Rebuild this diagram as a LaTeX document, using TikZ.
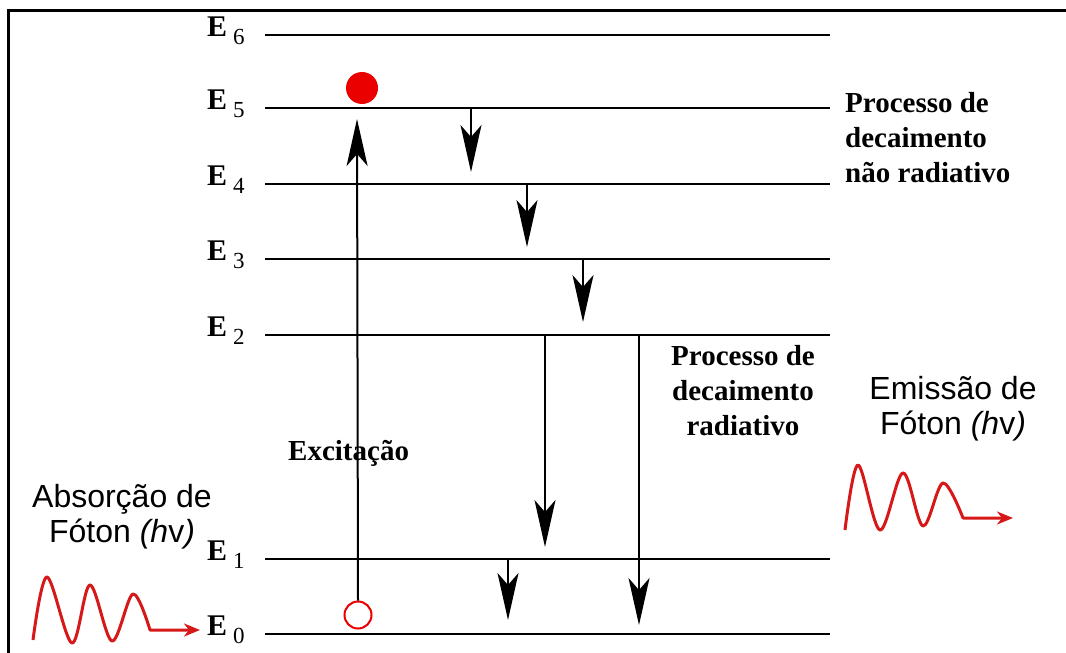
\documentclass[tikz,border=0pt]{standalone}
\usepackage{fontspec}
\setmainfont{Liberation Serif}
\newfontfamily\arialf{Liberation Sans}
\usetikzlibrary{arrows.meta}
\definecolor{wred}{RGB}{214,24,24}
\definecolor{dotred}{RGB}{235,0,0}
\newcommand\mylinesL[1]{\begin{tabular}[t]{@{}l@{}}#1\end{tabular}}
\newcommand\mylinesC[1]{\begin{tabular}[t]{@{}c@{}}#1\end{tabular}}
\newcommand\esub[1]{\textbf{E}\kern6pt\raisebox{-8pt}{\mdseries\fontsize{23}{23}\selectfont #1}}
\begin{document}
\begin{tikzpicture}[x=1pt,y=-1pt,
  level/.style={line width=2.5pt},
  elabel/.style={anchor=base west,inner sep=0pt,font=\fontsize{30}{31}\selectfont},
  fall/.style={line width=2pt,-{Stealth[length=47pt,width=21pt,inset=12pt]}},
  wave/.style={wred,line width=3pt,line join=round,-{Stealth[length=16pt,width=13pt,inset=5pt]}},
  proc/.style={inner sep=0pt,font=\fontsize{29}{35}\selectfont\bfseries},
  sans/.style={inner sep=0pt,anchor=base,font=\arialf\fontsize{32}{35}\selectfont}]
\useasboundingbox (0,0) rectangle (1066,653);
% frame
\draw[line width=3pt] (8,653) -- (8,10) -- (1066,10);
% levels
\foreach \n/\y in {6/35,5/108,4/184,3/259,2/335,1/559,0/634}{
  \coordinate (L\n a) at (265,\y);
  \coordinate (L\n b) at (830,\y);
  \draw[level] (L\n a) -- (L\n b);
  \node[elabel] (E\n) at (207,\y+1) {\esub{\n}};
}
% particles
\node[circle,fill=dotred,minimum size=32pt,inner sep=0pt] (p5) at (362,88) {};
\node[circle,draw=dotred,line width=2pt,fill=white,minimum size=27pt,inner sep=0pt] (p0) at (358,615) {};
% excitation
\coordinate (exc) at (357,119);
\draw[fall] (p0.north) -- (exc);
% non-radiative decays
\coordinate (n1s) at (471,108); \coordinate (n1e) at (471,172);
\coordinate (n2s) at (527,184); \coordinate (n2e) at (527,247);
\coordinate (n3s) at (583,259); \coordinate (n3e) at (583,322);
\draw[fall] (n1s) -- (n1e);
\draw[fall] (n2s) -- (n2e);
\draw[fall] (n3s) -- (n3e);
% radiative decays
\coordinate (r1s) at (545,335); \coordinate (r1e) at (545,547);
\coordinate (r2s) at (639,335); \coordinate (r2e) at (639,625);
\coordinate (r3s) at (508,559); \coordinate (r3e) at (508,620);
\draw[fall] (r1s) -- (r1e);
\draw[fall] (r2s) -- (r2e);
\draw[fall] (r3s) -- (r3e);
% texts
\node[proc,anchor=base west] (tnr) at (845,112) {\mylinesL{Processo de\\decaimento\\não radiativo}};
\node[proc,anchor=base] (tr) at (743,365) {\mylinesC{Processo de\\decaimento\\radiativo}};
\node[proc,anchor=base west] (tex) at (288,460) {Excitação};
\node[sans] (tab) at (122,507) {\mylinesC{Absorção de\\Fóton \textit{(h}v\textit{)}}};
\node[sans] (tem) at (953,399) {\mylinesC{Emissão de\\Fóton \textit{(h}v\textit{)}}};
% waves
\draw[wave] plot[smooth,tension=0.55] coordinates {(33,640) (47,577) (72,643) (90,585) (112,641) (133,594) (150,630)} -- (200,630);
\draw[wave] plot[smooth,tension=0.55] coordinates {(845,530) (858,465) (880,530) (903,473) (923,526) (943,483) (963,518)} -- (1013,518);
\end{tikzpicture}
\end{document}
